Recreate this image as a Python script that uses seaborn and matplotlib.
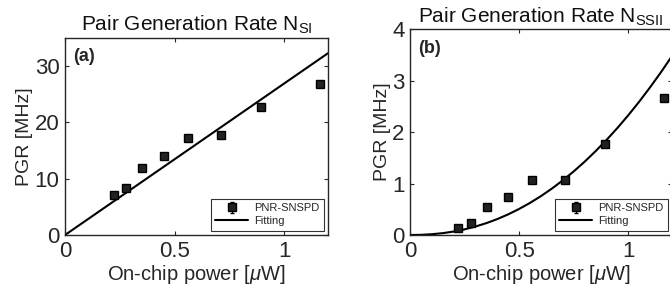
import numpy as np
import pandas as pd
import matplotlib
matplotlib.use("Agg")
import matplotlib.pyplot as plt
import seaborn as sns

# measured points (on-chip power in uW, PGR in MHz)
power = [0.222, 0.28, 0.352, 0.451, 0.561, 0.711, 0.894, 1.165]
pgr_si = [7.1, 8.3, 11.95, 14.1, 17.3, 17.8, 22.7, 26.8]
pgr_si_err = [0.4, 0.4, 0.4, 0.4, 0.4, 0.4, 0.4, 0.4]
pgr_ssii = [0.13, 0.24, 0.55, 0.745, 1.06, 1.07, 1.77, 2.66]
pgr_ssii_err = [0.05, 0.05, 0.05, 0.05, 0.05, 0.05, 0.05, 0.05]

# fitting curves
fit_x_si = [0.0, 1.2]
fit_y_si = [0.0, 32.3]
fit_x_ssii = [0.0, 0.05, 0.1, 0.15, 0.2, 0.25, 0.3, 0.35, 0.4, 0.45, 0.5, 0.55, 0.6,
              0.65, 0.7, 0.75, 0.8, 0.85, 0.9, 0.95, 1.0, 1.05, 1.1, 1.15, 1.2]
fit_y_ssii = [0.0, 0.003, 0.015, 0.036, 0.067, 0.11, 0.165, 0.231, 0.31, 0.402, 0.507,
              0.625, 0.757, 0.903, 1.063, 1.237, 1.426, 1.63, 1.848, 2.081, 2.33,
              2.594, 2.874, 3.169, 3.48]

sns.set_style("ticks")
plt.rcParams['font.family'] = ['Liberation Sans', 'DejaVu Sans']
plt.rcParams['mathtext.fontset'] = 'custom'
plt.rcParams['mathtext.rm'] = 'Liberation Sans'
plt.rcParams['mathtext.it'] = 'Liberation Sans:italic'

fig = plt.figure(figsize=(6.7, 2.89), dpi=100)
ax1 = fig.add_axes([65 / 670, 54 / 289, 263 / 670, 197 / 289])
ax2 = fig.add_axes([410 / 670, 54 / 289, 262 / 670, 205.7 / 289])

panels = [
    (ax1, pgr_si, pgr_si_err, fit_x_si, fit_y_si, 35, [0, 10, 20, 30], r'Pair Generation Rate N$_{\mathrm{SI}}$', '(a)'),
    (ax2, pgr_ssii, pgr_ssii_err, fit_x_ssii, fit_y_ssii, 4, [0, 1, 2, 3, 4], r'Pair Generation Rate N$_{\mathrm{SSII}}$', '(b)'),
]

for ax, y, yerr, fx, fy, ymax, yticks, title, tag in panels:
    ax.errorbar(power, y, yerr=yerr, fmt='s', color='black', markersize=5.5,
                markerfacecolor='#222222', markeredgecolor='black', elinewidth=0.8,
                capsize=1.5, label='PNR-SNSPD')
    sns.lineplot(x=fx, y=fy, ax=ax, color='black', linewidth=1.5, label='Fitting')
    ax.set_xlim(0, 1.2)
    ax.set_ylim(0, ymax)
    ax.set_xticks([0, 0.5, 1])
    ax.set_xticklabels(['0', '0.5', '1'])
    ax.set_yticks(yticks)
    ax.tick_params(direction='in', length=3, width=0.8, labelsize=16, pad=4,
                   top=True, right=True, colors='#262626')
    for s in ax.spines.values():
        s.set_visible(True)
        s.set_linewidth(1.0)
        s.set_color('#262626')
    ax.set_xlabel(r'On-chip power [$\mu$W]', fontsize=14.5, labelpad=1, color='#262626')
    ax.set_ylabel('PGR [MHz]', fontsize=14, labelpad=1, color='#262626')
    ax.set_title(title, fontsize=15, pad=5, color='#111111')
    ax.text(0.03, 0.95, tag, transform=ax.transAxes, fontsize=13, fontweight='bold',
            va='top', ha='left')
    handles, labels = ax.get_legend_handles_labels()
    order = [labels.index('PNR-SNSPD'), labels.index('Fitting')]
    leg = ax.legend([handles[i] for i in order], [labels[i] for i in order],
                    loc='lower right', fontsize=8, frameon=True, fancybox=False,
                    edgecolor='black', borderpad=0.4, handlelength=3.0,
                    handletextpad=0.5, labelspacing=0.25, borderaxespad=0.4)
    leg.get_frame().set_linewidth(0.8)

fig.savefig('out.png', dpi=100)
